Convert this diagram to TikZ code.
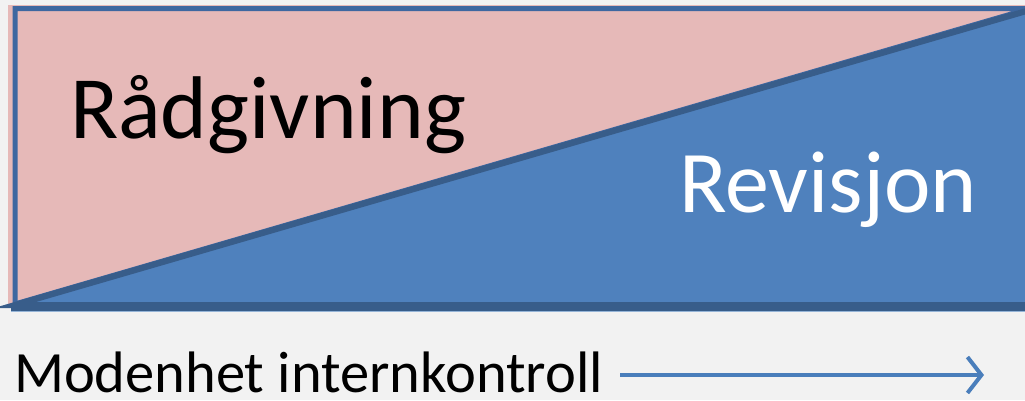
\documentclass[tikz,border=0pt]{standalone}
\usepackage{fontspec}
\setmainfont{Carlito}
\usetikzlibrary{arrows.meta}
\definecolor{bgc}{HTML}{F2F2F2}
\definecolor{rosefill}{HTML}{E6B9B8}
\definecolor{bluefill}{HTML}{4F81BD}
\definecolor{blueedge}{HTML}{385D8A}
\definecolor{frameedge}{HTML}{3E67A0}
\definecolor{arrowblue}{HTML}{4A7EBB}
\tikzset{
  label/.style={inner sep=0pt, outer sep=0pt, anchor=base west},
  trend/.style={draw=arrowblue, line width=4pt, -{Straight Barb[length=14pt, width=36pt, line width=4pt]}}
}
\begin{document}
\begin{tikzpicture}[x=1pt, y=-1pt]
  % page area
  \fill[bgc] (0,0) rectangle (1025,400);
  \useasboundingbox (0,0) rectangle (1025,400);
  % pale backing strip
  \fill[rosefill] (8,5) rectangle (1025,308);
  % advisory triangle (upper left)
  \filldraw[fill=rosefill, draw=frameedge, line width=5pt, line join=miter]
    (15,8.5) -- (1030,8.5) -- (15,304) -- cycle;
  % audit triangle (lower right)
  \filldraw[fill=bluefill, draw=blueedge, line width=6pt, line join=miter]
    (15,305) -- (1030,10) -- (1030,305) -- cycle;
  % lower frame edge
  \draw[blueedge, line width=8pt] (11,307) -- (1030,307);
  \draw[bluefill!60!white, line width=1pt] (11,311.5) -- (1030,311.5);
  % labels
  \node[label, font=\fontsize{89}{100}\selectfont] (rad) at (70,138) {Rådgivning};
  \node[label, font=\fontsize{88}{100}\selectfont, text=white] (rev) at (679,212) {Revisjon};
  \node[label, font=\fontsize{58.5}{66}\selectfont] (mod) at (14,392) {Modenhet internkontroll};
  % maturity arrow
  \coordinate (tip) at (984,375);
  \draw[trend] (mod.east |- tip) ++(17,0) -- (tip);
\end{tikzpicture}
\end{document}
